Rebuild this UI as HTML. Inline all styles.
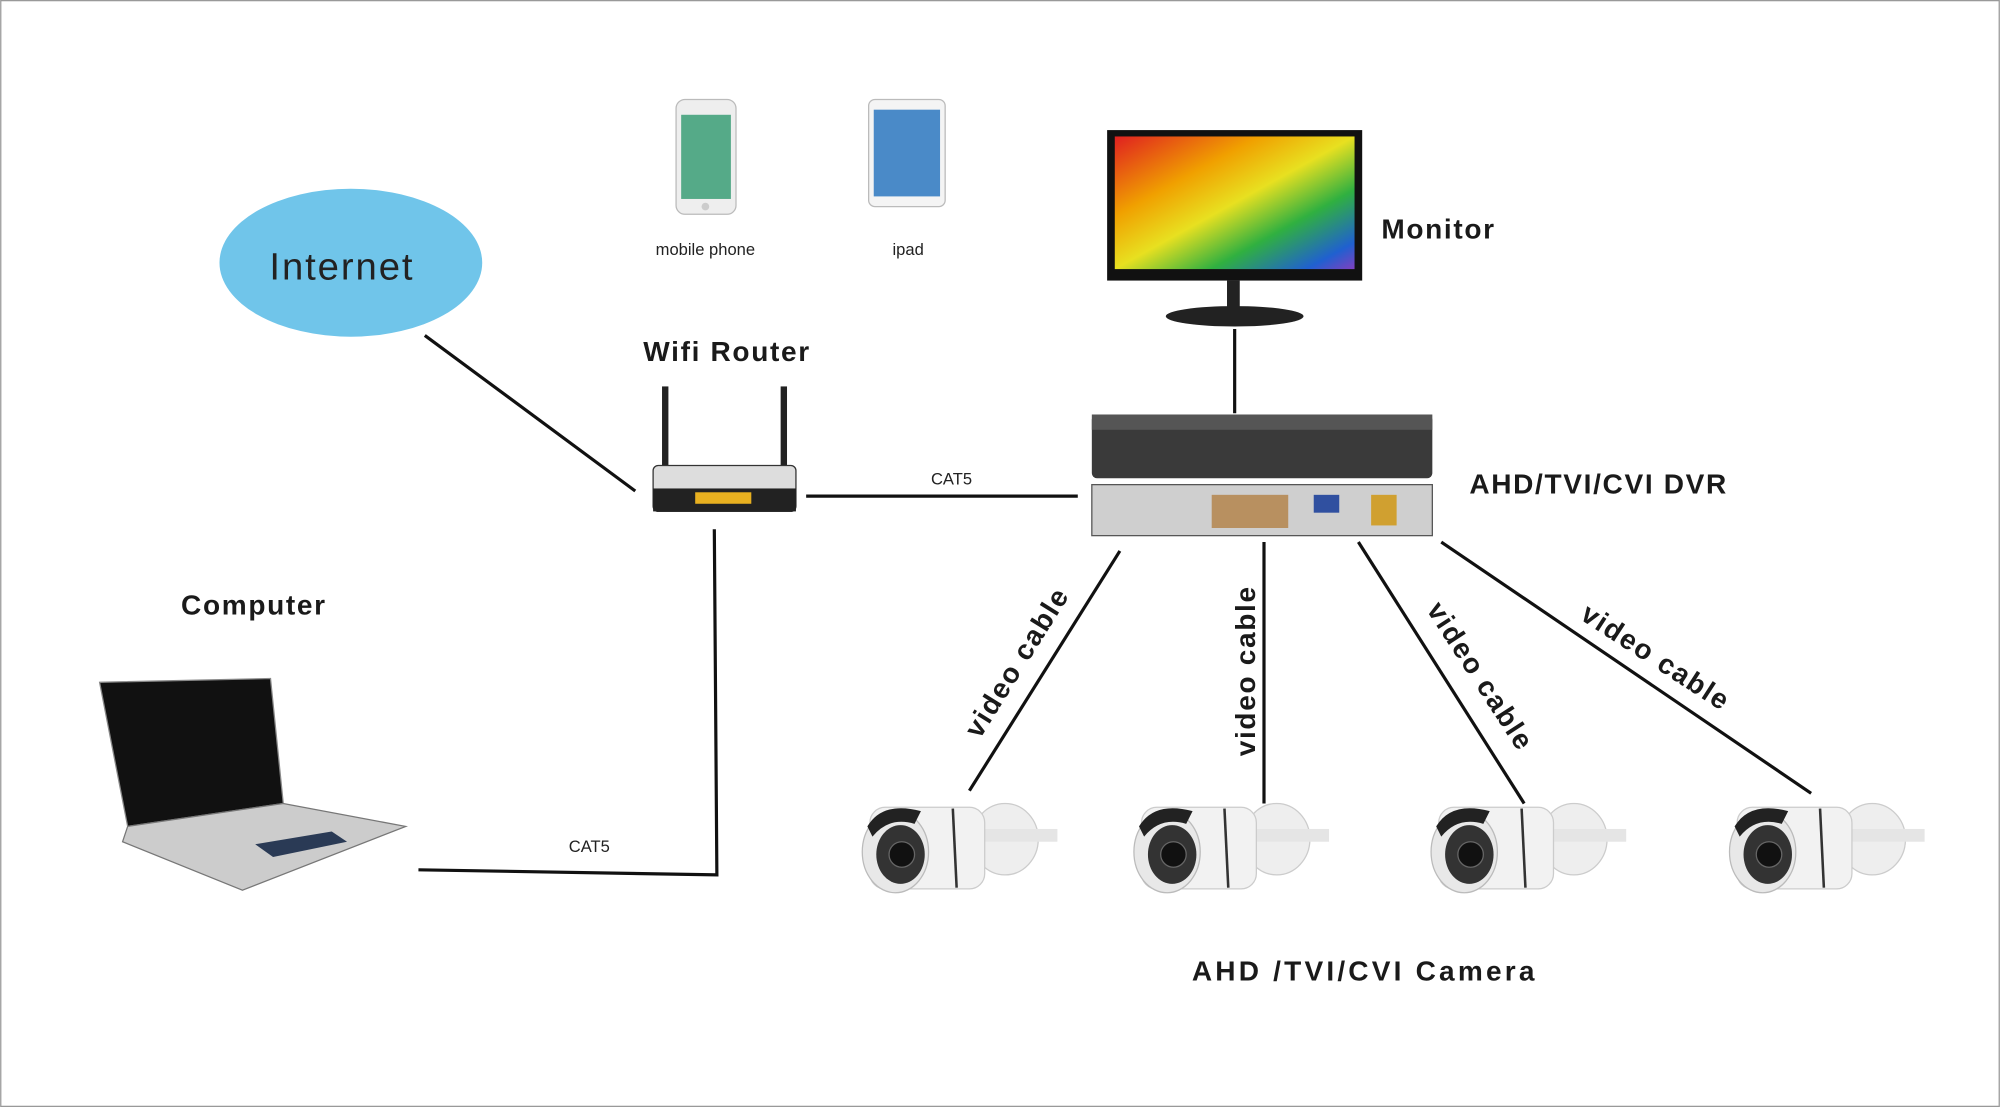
<!DOCTYPE html>
<html><head><meta charset="utf-8"><style>
html,body{margin:0;padding:0;background:#fff;}
svg{display:block;}
text{font-family:"Liberation Sans",Arial,sans-serif;}
.b{font-weight:bold;font-size:22px;fill:#1a1a1a;letter-spacing:1.3px;}
.s{font-size:13px;fill:#222;}
</style></head><body>
<svg width="2000" height="1107" viewBox="0 0 1568 868" xmlns="http://www.w3.org/2000/svg">
<defs>
<linearGradient id="scr" x1="0" y1="0" x2="1" y2="1">
<stop offset="0" stop-color="#e02020"/><stop offset="0.3" stop-color="#f0a000"/><stop offset="0.5" stop-color="#e8e020"/><stop offset="0.7" stop-color="#30b040"/><stop offset="0.9" stop-color="#2060d0"/><stop offset="1" stop-color="#8040c0"/>
</linearGradient>
<g id="cam">
<rect x="85" y="10" width="12" height="30" fill="#d8d8d8"/>
<ellipse cx="116" cy="30" rx="26" ry="28" fill="#eee" stroke="#ccc"/>
<rect x="95" y="22" width="62" height="10" fill="#e5e5e5"/>
<rect x="10" y="5" width="90" height="64" rx="12" fill="#f2f2f2" stroke="#ccc"/>
<line x1="75" y1="6" x2="78" y2="68" stroke="#333" stroke-width="2"/>
<ellipse cx="30" cy="40" rx="26" ry="32" fill="#e8e8e8" stroke="#bbb"/>
<ellipse cx="34" cy="42" rx="19" ry="23" fill="#333"/>
<circle cx="35" cy="42" r="10" fill="#111" stroke="#666"/>
<path d="M8,20 Q20,0 50,8 L45,18 Q25,12 12,28Z" fill="#222"/>
</g>
</defs>
<rect x="0.5" y="0.5" width="1567" height="867" fill="#fff" stroke="#999"/>

<ellipse cx="275" cy="206" rx="103" ry="58" fill="#70c5ea"/>
<text x="268" y="219" font-size="30" text-anchor="middle" fill="#222" letter-spacing="1.5">Internet</text>

<g stroke="#111" stroke-width="2.5" fill="none">
<line x1="333" y1="263" x2="498" y2="385"/>
<line x1="632" y1="389" x2="845" y2="389"/>
<polyline points="560,415 562,686 328,682"/>
<line x1="968" y1="258" x2="968" y2="324"/>
<line x1="878" y1="432" x2="760" y2="620"/>
<line x1="991" y1="425" x2="991" y2="630"/>
<line x1="1065" y1="425" x2="1195" y2="630"/>
<line x1="1130" y1="425" x2="1420" y2="622"/>
</g>
<text x="746" y="380" class="s" text-anchor="middle">CAT5</text>
<text x="462" y="668" class="s" text-anchor="middle">CAT5</text>

<rect x="530" y="78" width="47" height="90" rx="7" fill="#eee" stroke="#bbb"/>
<rect x="534" y="90" width="39" height="66" fill="#5a8"/>
<circle cx="553" cy="162" r="3" fill="#ccc"/>
<rect x="681" y="78" width="60" height="84" rx="5" fill="#f4f4f4" stroke="#bbb"/>
<rect x="685" y="86" width="52" height="68" fill="#4a8ac8"/>
<text x="553" y="200" class="s" text-anchor="middle">mobile phone</text>
<text x="712" y="200" class="s" text-anchor="middle">ipad</text>

<text x="570" y="283" class="b" text-anchor="middle">Wifi Router</text>
<rect x="519" y="303" width="5" height="68" fill="#222"/>
<rect x="612" y="303" width="5" height="68" fill="#222"/>
<rect x="512" y="365" width="112" height="36" rx="4" fill="#ddd" stroke="#333"/>
<rect x="512" y="383" width="112" height="18" fill="#222"/>
<rect x="545" y="386" width="44" height="9" fill="#e8b020"/>

<rect x="868" y="102" width="200" height="118" fill="#111"/>
<rect x="874" y="107" width="188" height="104" fill="url(#scr)"/>
<rect x="962" y="220" width="10" height="22" fill="#222"/>
<ellipse cx="968" cy="248" rx="54" ry="8" fill="#222"/>
<text x="1083" y="187" class="b">Monitor</text>

<rect x="856" y="325" width="267" height="50" rx="4" fill="#3a3a3a"/>
<rect x="856" y="325" width="267" height="12" fill="#555"/>
<rect x="856" y="380" width="267" height="40" fill="#cfcfcf" stroke="#555"/>
<rect x="950" y="388" width="60" height="26" fill="#b89060"/>
<rect x="1030" y="388" width="20" height="14" fill="#3050a0"/>
<rect x="1075" y="388" width="20" height="24" fill="#d0a030"/>
<text x="1152" y="387" class="b">AHD/TVI/CVI DVR</text>

<text class="b" transform="translate(768,580) rotate(-58)">video cable</text>
<text class="b" transform="translate(984,593) rotate(-90)">video cable</text>
<text class="b" transform="translate(1118,478) rotate(57)">video cable</text>
<text class="b" transform="translate(1238,485) rotate(33)">video cable</text>

<text x="199" y="482" class="b" text-anchor="middle">Computer</text>
<polygon points="78,535 212,532 222,630 100,648" fill="#111" stroke="#888"/>
<polygon points="100,648 222,630 318,648 190,698 96,660" fill="#ccc" stroke="#777"/>
<polygon points="200,662 260,652 272,660 214,672" fill="#2a3a55"/>

<use href="#cam" x="672" y="628"/>
<use href="#cam" x="885" y="628"/>
<use href="#cam" x="1118" y="628"/>
<use href="#cam" x="1352" y="628"/>
<text x="1070" y="769" class="b" text-anchor="middle" style="letter-spacing:2.5px">AHD /TVI/CVI Camera</text>
</svg>
</body></html>
